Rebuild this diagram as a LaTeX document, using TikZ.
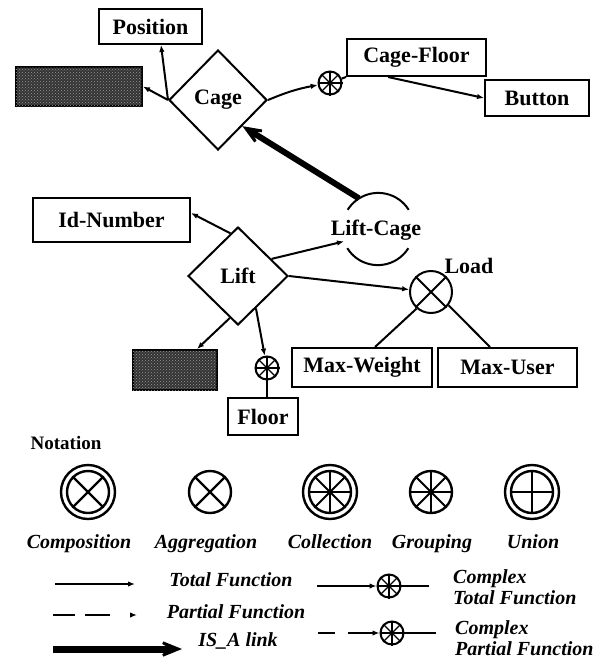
\documentclass[tikz,border=0pt]{standalone}
\usepackage{fontspec}
\setmainfont{Liberation Serif}
\usetikzlibrary{shapes.geometric,arrows.meta,calc,patterns}
\begin{document}
\begin{tikzpicture}[x=1pt,y=-1pt,
  box/.style={draw, line width=2pt, inner sep=0pt, font=\bfseries\fontsize{22}{24}\selectfont},
  darkbox/.style={draw, line width=2pt, inner sep=0pt, fill=black!80,
    postaction={pattern=crosshatch dots, pattern color=black!40}},
  dia/.style={draw, diamond, aspect=1, line width=2pt, inner sep=0pt,
    minimum width=98pt, minimum height=100pt, font=\bfseries\fontsize{22}{24}\selectfont},
  plain/.style={inner sep=0pt, font=\bfseries\fontsize{22}{24}\selectfont},
  grp/.style={draw, circle, line width=2pt, inner sep=0pt, minimum size=23pt},
  ring/.style={draw, circle, line width=2.4pt, inner sep=0pt},
  spoke/.style={line width=1.2pt},
  tf/.style={line width=2pt, -{Latex[length=7pt,width=5.5pt]}},
  ln/.style={line width=2pt},
  isa/.style={line width=6pt, -{Stealth[length=37pt,width=30pt,inset=26pt]}},
  lbl/.style={inner sep=0pt, font=\bfseries\itshape\fontsize{20}{21}\selectfont},
]
\useasboundingbox (0,0) rectangle (598,662);

% ---------- upper part ----------
\node[box, minimum width=103pt, minimum height=35pt] (Position) at (150.5,26.5) {Position};
\node[darkbox, minimum width=126pt, minimum height=39pt] (DoorState) at (79,86.5) {};
\node[dia] (Cage) at (218,100) {Cage};
\node[grp] (G1) at (330,83) {};
\foreach \a in {0,45,...,315} \draw[spoke] (G1.center) -- (G1.\a);
\node[box, minimum width=139pt, minimum height=37pt] (CageFloor) at (416.5,57.5) {Cage-Floor};
\node[box, minimum width=104pt, minimum height=36pt] (Button) at (537,98) {Button};

\node[circle, inner sep=0pt, minimum size=72pt] (LiftCage) at (378,229) {};
\node[plain] (LiftCageLbl) at (376,230) {Lift-Cage};
\draw[line width=2pt] (LiftCage.32) arc[start angle=32, end angle=148, radius=36pt];
\draw[line width=2pt] (LiftCage.-148) arc[start angle=-148, end angle=-32, radius=36pt];

\node[box, minimum width=157pt, minimum height=44pt] (IdNumber) at (111.5,220) {Id-Number};
\node[dia, minimum width=100pt, minimum height=98pt] (Lift) at (238,276) {Lift};
\node[draw, circle, line width=2pt, inner sep=0pt, minimum size=42pt] (Load) at (431,292) {};
\draw[line width=2pt] (Load.45) -- (Load.-135) (Load.135) -- (Load.-45);
\node[plain] (LoadLbl) at (469,266) {Load};
\node[darkbox, minimum width=84pt, minimum height=40pt] (Status) at (175,370) {};
\node[grp] (G2) at (267,368) {};
\foreach \a in {0,45,...,315} \draw[spoke] (G2.center) -- (G2.\a);
\node[box, minimum width=70pt, minimum height=37pt] (Floor) at (263,416.5) {Floor};
\node[box, minimum width=140pt, minimum height=39pt] (MaxWeight) at (362,367.5) {Max-Weight};
\node[box, minimum width=139pt, minimum height=39pt] (MaxUser) at (507.5,367.5) {Max-User};

% connectors
\draw[tf] (Cage.west) -- ($(Position.south)+(10.5,0)$);
\draw[tf] (Cage.west) -- (DoorState.east);
\draw[tf] (Cage.east) to[bend left=6] (G1);
\draw[ln] (G1) -- (CageFloor.south west);
\draw[tf] ($(CageFloor.south)+(-28.5,0)$) -- (Button.west);
\draw[isa] (LiftCage.122) -- (Cage.-47);
\draw[tf] (Lift.100) -- ($(IdNumber.east)+(0,-7)$);
\draw[tf] (Lift.-101) -- ($(Status.north)+(22,0)$);
\draw[tf] (Lift.-61) -- (G2);
\draw[ln] (G2.south) -- (G2.south |- Floor.north);
\draw[tf] (Lift.27) -- (LiftCage.-160);
\draw[tf] (Lift.east) -- (Load);
\draw[ln] (Load.-131) -- ($(MaxWeight.north)+(13,0)$);
\draw[ln] (Load.-37) -- ($(MaxUser.north)+(-17.5,0)$);

% ---------- notation ----------
\node[inner sep=0pt, font=\bfseries\fontsize{19}{21}\selectfont] (Notation) at (66,443) {Notation};

\node[ring, minimum size=54pt] (comp) at (88,492) {};
\node[ring, minimum size=42pt] (compIn) at (88,492) {};
\draw[line width=2.2pt] (compIn.45) -- (compIn.-135) (compIn.135) -- (compIn.-45);

\node[ring, minimum size=42pt] (aggr) at (210,492) {};
\draw[line width=2.2pt] (aggr.45) -- (aggr.-135) (aggr.135) -- (aggr.-45);

\node[ring, minimum size=54pt] (coll) at (330,492) {};
\node[ring, minimum size=42pt] (collIn) at (330,492) {};
\foreach \a in {0,45,...,315} \draw[line width=2pt] (collIn.center) -- (collIn.\a);

\node[ring, minimum size=42pt] (grou) at (431,492) {};
\foreach \a in {0,45,...,315} \draw[line width=2pt] (grou.center) -- (grou.\a);

\node[ring, minimum size=54pt] (unio) at (532,492) {};
\node[ring, minimum size=42pt] (unioIn) at (532,492) {};
\draw[line width=2.2pt] (unioIn.north) -- (unioIn.south) (unioIn.west) -- (unioIn.east);

\node[lbl, anchor=base] (compL) at (79,548) {Composition};
\node[lbl, anchor=base] (aggrL) at (206,548) {Aggregation};
\node[lbl, anchor=base] (collL) at (330,548) {Collection};
\node[lbl, anchor=base] (grouL) at (432,548) {Grouping};
\node[lbl, anchor=base] (unioL) at (533,548) {Union};

% legend lines
\coordinate (tfA) at (55,584);
\coordinate (tfB) at (135,584);
\draw[tf] (tfA) -- (tfB);
\node[lbl, anchor=base] (tfL) at (231,586) {Total Function};

\coordinate (pfA) at (53,615);
\coordinate (pfB) at (137,615);
\draw[tf, dash pattern=on 22pt off 10pt on 25pt off 30pt] (pfA) -- (pfB);
\node[lbl, anchor=base] (pfL) at (236,618) {Partial Function};

\coordinate (isA) at (53,649);
\coordinate (isB) at (182,649);
\draw[isa, line width=7pt] (isA) -- (isB);
\node[lbl, anchor=base] (isL) at (238,646) {IS\_A link};

\coordinate (ctA) at (317,586);
\node[grp] (ctG) at (389,586) {};
\foreach \a in {0,45,...,315} \draw[spoke] (ctG.center) -- (ctG.\a);
\coordinate (ctB) at (429,586);
\draw[tf] (ctA) -- (ctG);
\draw[ln] (ctG) -- (ctB);
\node[lbl, align=left, anchor=west] (ctL) at (453,587.5) {Complex\\Total Function};

\coordinate (cpA) at (318,633);
\node[grp] (cpG) at (392,633) {};
\foreach \a in {0,45,...,315} \draw[spoke] (cpG.center) -- (cpG.\a);
\coordinate (cpB) at (436,633);
\draw[tf, dash pattern=on 17pt off 13pt on 100pt] (cpA) -- (cpG);
\draw[ln] (cpG) -- (cpB);
\node[lbl, align=left, anchor=west] (cpL) at (455,638) {Complex\\Partial Function};
\end{tikzpicture}
\end{document}
